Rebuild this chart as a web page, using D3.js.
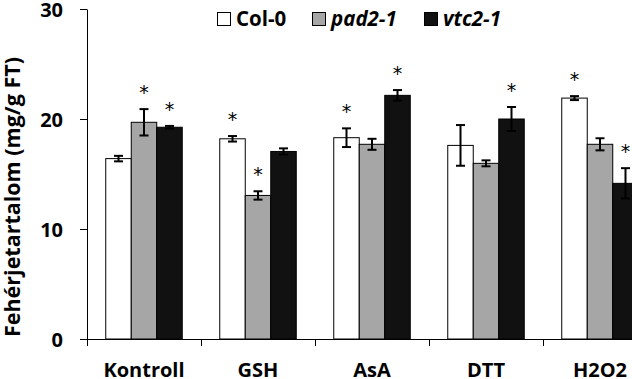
<!DOCTYPE html>
<html><head><meta charset="utf-8">
<script src="https://cdn.jsdelivr.net/npm/d3@7"></script>
<style>body{margin:0;background:#fff;} svg{display:block;}</style>
</head><body>
<svg id="c" width="632" height="379"></svg>
<script>
const categories = ["Kontroll", "GSH", "AsA", "DTT", "H2O2"];
const seriesNames = ["Col-0", "pad2-1", "vtc2-1"];
const col0 = [16.4, 18.2, 18.3, 17.6, 21.9];
const col0Err = [0.25, 0.25, 0.85, 1.85, 0.18];
const pad21 = [19.7, 13.05, 17.7, 15.97, 17.7];
const pad21Err = [1.2, 0.38, 0.5, 0.27, 0.55];
const vtc21 = [19.25, 17.05, 22.15, 20.0, 14.15];
const vtc21Err = [0.12, 0.28, 0.48, 1.09, 1.38];
const col0Sig = [false, true, true, false, true];
const pad21Sig = [true, true, false, false, false];
const vtc21Sig = [true, false, true, true, true];
const yTicks = [0, 10, 20, 30];

const series = [
  {name: seriesNames[0], values: col0, errs: col0Err, sig: col0Sig, fill: "#ffffff", italic: false},
  {name: seriesNames[1], values: pad21, errs: pad21Err, sig: pad21Sig, fill: "#a6a6a6", italic: true},
  {name: seriesNames[2], values: vtc21, errs: vtc21Err, sig: vtc21Sig, fill: "#111111", italic: true}
];

const svg = d3.select("#c");
const font = "'Open Sans', sans-serif";
const x0 = 87, yBase = 339, yTop = 9, catW = 114;

const x = d3.scaleBand().domain(categories).range([x0, x0 + catW * categories.length]).padding(0);
const xs = d3.scaleBand().domain(seriesNames).range([18.75, catW - 18.75]).padding(0);
const y = d3.scaleLinear().domain([0, 30]).range([yBase, yTop]);

// bars
series.forEach(s => {
  const g = svg.append("g");
  g.selectAll("rect").data(categories).join("rect")
    .attr("x", c => x(c) + xs(s.name))
    .attr("y", (c, i) => y(s.values[i]))
    .attr("width", xs.bandwidth())
    .attr("height", (c, i) => y(0) - y(s.values[i]))
    .attr("fill", s.fill)
    .attr("stroke", "#000").attr("stroke-width", 1);
});

// error bars + asterisks
series.forEach(s => {
  categories.forEach((c, i) => {
    const cx = x(c) + xs(s.name) + xs.bandwidth() / 2;
    const hi = y(s.values[i] + s.errs[i]), lo = y(s.values[i] - s.errs[i]);
    const g = svg.append("g").attr("stroke", "#000").attr("stroke-width", 2);
    g.append("line").attr("x1", cx).attr("x2", cx).attr("y1", hi).attr("y2", lo);
    g.append("line").attr("x1", cx - 4.5).attr("x2", cx + 4.5).attr("y1", hi).attr("y2", hi);
    g.append("line").attr("x1", cx - 4.5).attr("x2", cx + 4.5).attr("y1", lo).attr("y2", lo);
    if (s.sig[i]) {
      svg.append("text").attr("x", cx).attr("y", hi - 21 + 11)
        .attr("text-anchor", "middle").attr("font-family", "'DejaVu Sans', sans-serif")
        .attr("font-size", 19).attr("fill", "#000").text("*");
    }
  });
});

// y axis
const yAxis = d3.axisLeft(y).tickValues(yTicks).tickSize(7).tickPadding(17).tickSizeOuter(0);
const gy = svg.append("g").attr("transform", `translate(${x0},0)`).call(yAxis);
gy.select(".domain").attr("stroke", "#000");
gy.selectAll("line").attr("stroke", "#000");
gy.selectAll("text").attr("font-family", font).attr("font-weight", "bold")
  .attr("font-size", 20).attr("fill", "#000").attr("dy", "0.35em");

// x axis baseline and ticks at category boundaries
svg.append("line").attr("x1", x0 - 7).attr("x2", 640).attr("y1", yBase + 0.5).attr("y2", yBase + 0.5)
  .attr("stroke", "#000");
categories.forEach(c => {
  svg.append("line").attr("x1", x(c) + 0.5).attr("x2", x(c) + 0.5)
    .attr("y1", yBase).attr("y2", yBase + 7).attr("stroke", "#000");
  svg.append("text").attr("x", x(c) + x.bandwidth() / 2).attr("y", 377)
    .attr("text-anchor", "middle").attr("font-family", font).attr("font-weight", "bold")
    .attr("font-size", 20).attr("fill", "#000").text(c);
});

// y title
svg.append("text").attr("transform", `translate(20,197) rotate(-90)`)
  .attr("text-anchor", "middle").attr("font-family", font).attr("font-weight", "bold")
  .attr("font-size", 21.5).attr("fill", "#000").text("Fehérjetartalom (mg/g FT)");

// legend
const legX = [217, 312, 424];
series.forEach((s, i) => {
  svg.append("rect").attr("x", legX[i] + 0.5).attr("y", 12.5).attr("width", 13).attr("height", 13)
    .attr("fill", s.fill).attr("stroke", "#000").attr("stroke-width", 1);
  svg.append("text").attr("x", legX[i] + 19).attr("y", 26)
    .attr("font-family", font).attr("font-weight", "bold").attr("font-style", s.italic ? "italic" : "normal")
    .attr("font-size", 20.5).attr("fill", "#000").text(s.name);
});
</script>
</body></html>
